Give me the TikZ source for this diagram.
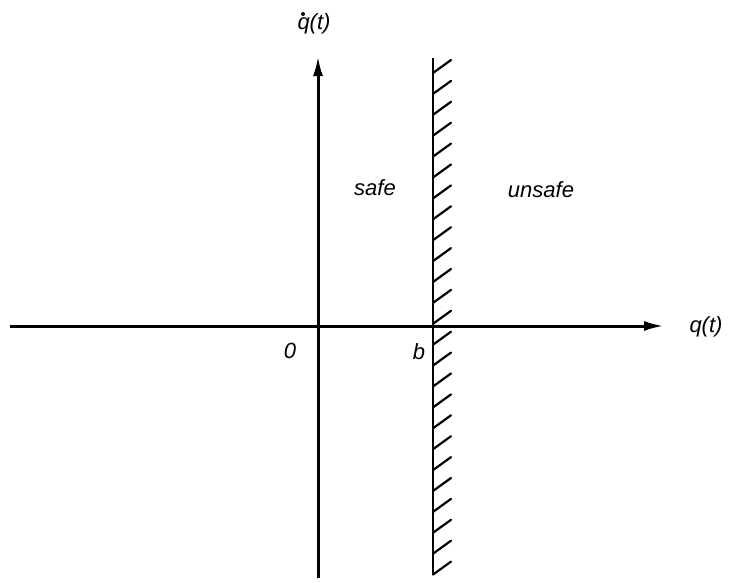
\documentclass[tikz,border=0pt]{standalone}
\usepackage{fontspec}
\setmainfont{Liberation Sans}
\usetikzlibrary{arrows.meta, positioning, calc}

\begin{document}
\begin{tikzpicture}[x=1pt, y=-1pt, axis/.style={line width=3pt, -{Latex[length=20pt, width=10pt]}}, wall/.style={line width=2.6pt}, hatch/.style={line width=2.2pt, line cap=round}, lbl/.style={font=\fontsize{22}{26}\selectfont\itshape}]
    \useasboundingbox (0,0) rectangle (732,582);
    % axes and wall
    \coordinate (xl) at (10,326);
    \coordinate (xr) at (664,326);
    \coordinate (yb) at (318,578);
    \coordinate (yt) at (318,56);
    \coordinate (wt) at (433,58);
    \coordinate (wb) at (433,575);

    \draw[axis] (xl) -- (xr);
    \draw[axis] (yb) -- (yt);
    \draw[wall] (wt) -- (wb);
    \foreach \i in {0,...,24}
        \draw[hatch] ($(wt)+(0,15+20.9*\i)$) -- ++(18,-13);

    % labels
    \node[lbl] (qdot) at (314,24) {q(t)};
    \fill ($(qdot.center)+(-11,-10)$) circle (2pt); % time derivative dot
    \node[lbl] (q) at (706,327) {q(t)};
    \node[lbl] (zero) at (290,351) {0};
    \node[lbl] (b) at (419,352) {b};
    \node[lbl] (safe) at (375,188) {safe};
    \node[lbl] (unsafe) at (541,190) {unsafe};
\end{tikzpicture}
\end{document}
